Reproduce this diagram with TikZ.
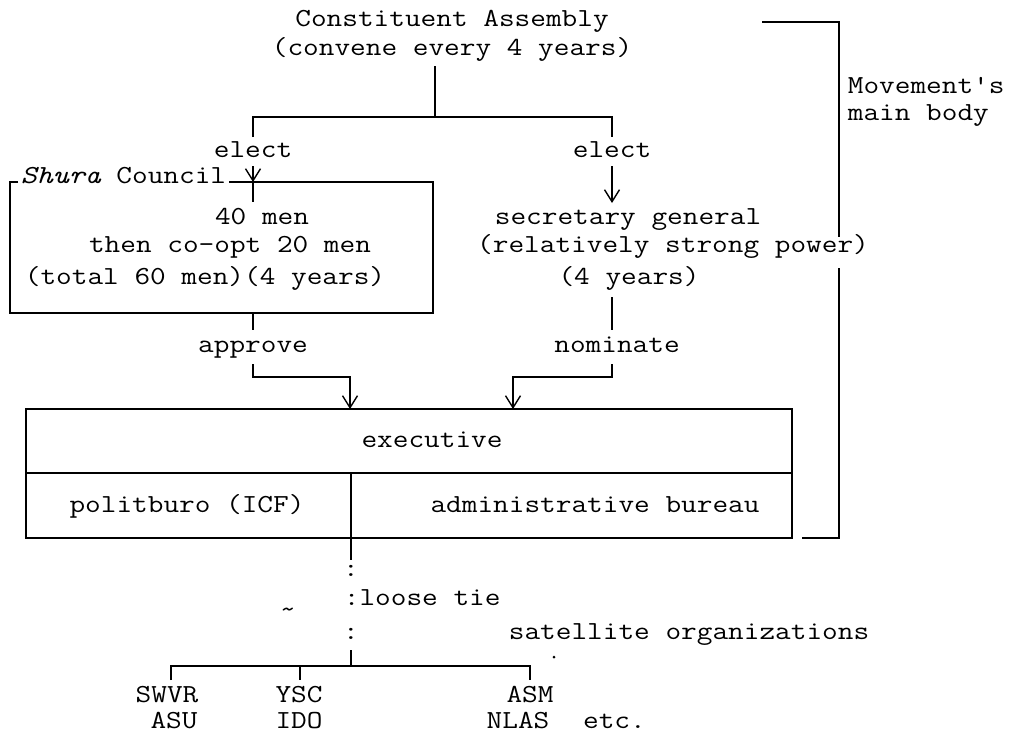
\documentclass[tikz,border=0pt]{standalone}
\usepackage{fontspec}
\newfontfamily\tw{Latin Modern Mono}[FakeStretch=1.17]
\usetikzlibrary{arrows.meta}
\begin{document}
\begin{tikzpicture}[x=1pt,y=-1pt,line width=1.8pt,
  every node/.style={font=\tw\fontsize{26}{30}\selectfont,inner sep=0pt,
    text height=15pt,text depth=5pt},
  tip/.style={-{Straight Barb[length=12pt,width=15pt,line width=1.4pt]}}]
\fill[white] (0,0) rectangle (1014,744);
\useasboundingbox (0,0) rectangle (1014,744);

% assembly and its two elections
\node (ca1) at (452,22) {Constituent Assembly};
\node (ca2) at (452,50) {(convene every 4 years)};
\node (eL) at (253,152) {elect};
\node (eR) at (612,152) {elect};
\coordinate (caS) at (435,66);
\coordinate (split) at (435,117);
\coordinate (splitL) at (253,117);
\coordinate (splitR) at (612,117);
\draw (caS) -- (split);
\draw (eL |- 0,137) -- (splitL) -- (splitR) -- (eR |- 0,137);

% Shura Council box
\node[anchor=west] (shura) at (20,178) {\itshape Shura\upshape{} Council};
\coordinate (sTL) at (10,182);
\coordinate (sTR) at (433,182);
\coordinate (sBL) at (10,313);
\coordinate (sBR) at (433,313);
\draw ([xshift=-2pt]shura.west |- sTL) -- (sTL) -- (sBL) -- (sBR) -- (sTR) -- ([xshift=2pt]shura.east |- sTR);
\node (s1) at (262,219) {40 men};
\node (s2) at (230,247) {then co-opt 20 men};
\node (s3) at (205,279) {(total 60 men)(4 years)};
\coordinate (eLa) at (253,166);
\draw (eLa) -- (253,202);
\draw[tip] (eLa) -- (eL |- sTL);

% secretary general
\node (g1) at (628,219) {secretary general};
\node (g2) at (673,247) {(relatively strong power)};
\node (g3) at (629,279) {(4 years)};
\draw[tip] (612,166) -- (612,203);

% approve / nominate
\node (ap) at (253,347) {approve};
\node (nm) at (617,347) {nominate};
\coordinate (apA) at (253,377);
\coordinate (nmA) at (612,377);
\coordinate (xA) at (350,409);
\coordinate (xB) at (513,409);
\draw (sBL -| ap) -- (253,330);
\draw (612,297) -- (612,330);
\draw[tip] (253,364) -- (apA) -- (apA -| xA) -- (xA);
\draw[tip] (612,364) -- (nmA) -- (nmA -| xB) -- (xB);

% executive
\coordinate (xTL) at (26,409);
\coordinate (xBR) at (792,538);
\draw (xTL) rectangle (xBR);
\draw (26,473) -- (792,473);
\coordinate (mid) at (351,473);
\node (ex) at (432,442) {executive};
\node (pb) at (187,507) {politburo (ICF)};
\node (ab) at (595,507) {administrative bureau};

% bracket for the main body
\coordinate (bT) at (839,22);
\coordinate (bB) at (839,538);
\draw (762,22) -- (bT) -- (839,237);
\draw (839,268) -- (bB) -- (802,538);
\node[anchor=west] (mv1) at (847,88) {Movement's};
\node[anchor=west] (mv2) at (847,115) {main body};

% loose tie to the satellite organizations
\draw (mid) -- (351,560);
\node (c1) at (351,571) {:};
\node[anchor=west] (lt) at (343,600) {:loose tie};
\node (c3) at (351,634) {:};
\node[anchor=west] (sat) at (508,634) {satellite organizations};
\node (tl) at (288,612) {\textasciitilde};
\fill (554,657) circle (1.5pt);
\coordinate (hub) at (351,666);
\draw (351,650) -- (hub);
\node (o1) at (167,697) {SWVR};
\node (o2) at (174,723) {ASU};
\node (o3) at (299,697) {YSC};
\node (o4) at (299,723) {IDO};
\node (o5) at (530,697) {ASM};
\node (o6) at (518,723) {NLAS};
\node[anchor=west] (o7) at ([xshift=32pt]o6.east) {etc.};
\draw (171,680) -- (171,666) -- (530,666) -- (530,680);
\draw (300,666) -- (300,680);
\end{tikzpicture}
\end{document}
